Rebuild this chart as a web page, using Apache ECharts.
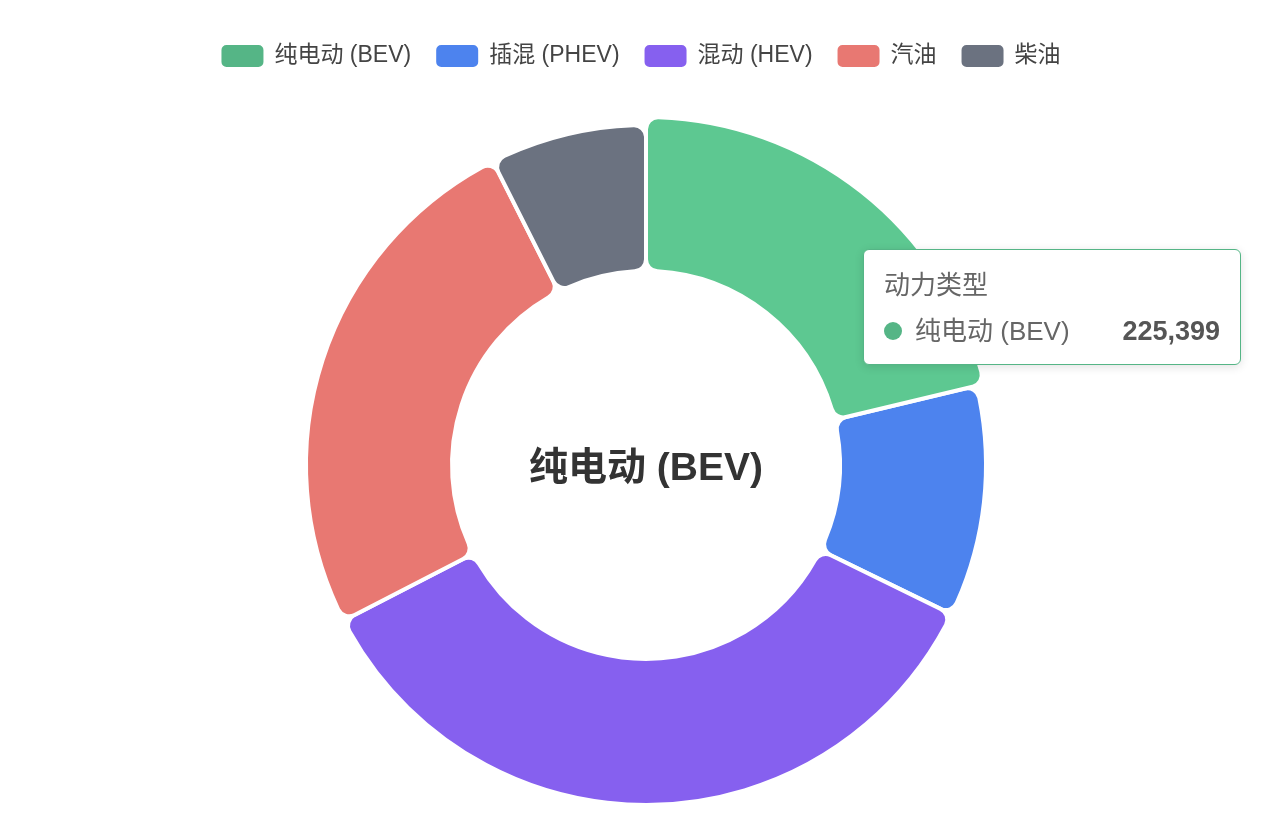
<!DOCTYPE html>
<html>
<head>
<meta charset="utf-8">
<script src="https://cdn.jsdelivr.net/npm/echarts@6/dist/echarts.min.js"></script>
<style>
  html, body { margin: 0; padding: 0; background: #fff; }
  #chart { width: 1280px; height: 821px; }
</style>
</head>
<body>
<div id="chart"></div>
<script>
(function () {
    'use strict';

    var categories = ['纯电动 (BEV)', '插混 (PHEV)', '混动 (HEV)', '汽油', '柴油'];
    var values = [225399, 116400, 373400, 266500, 78800];
    var colors = ['#55b586', '#4d83ee', '#8660ef', '#e87872', '#6b7280'];
    var seriesName = '动力类型';

    var FONT = '"Liberation Sans", "Noto Sans CJK SC", sans-serif';

    var chart = echarts.init(document.getElementById('chart'));

    var data = categories.map(function (name, i) {
        var item = { name: name, value: values[i], itemStyle: { color: colors[i] } };
        if (i === 0) {
            item.emphasis = { itemStyle: { color: '#5dc891' } };
        }
        return item;
    });

    chart.setOption({
        animation: false,
        textStyle: { fontFamily: FONT },
        color: colors,
        legend: {
            top: 38,
            left: 'center',
            itemWidth: 44,
            itemHeight: 24,
            itemGap: 23,
            icon: 'roundRect',
            textStyle: { fontSize: 23, color: '#444', fontFamily: FONT, padding: [0, 0, 0, 5] }
        },
        tooltip: {
            trigger: 'item',
            triggerOn: 'none',
            alwaysShowContent: true,
            position: [863, 249],
            padding: [17, 20, 15, 20],
            borderColor: colors[0],
            borderWidth: 1.5,
            backgroundColor: '#fff',
            extraCssText: 'border-radius:6px;box-shadow:0 2px 10px rgba(0,0,0,0.12);',
            formatter: function (p) {
                return '<div style="font-family:' + FONT.replace(/"/g, "'") + ';color:#666;">' +
                    '<div style="font-size:26px;line-height:36px;">' + p.seriesName + '</div>' +
                    '<div style="margin-top:10px;width:336px;display:flex;align-items:center;font-size:26px;line-height:36px;">' +
                    '<span style="display:inline-block;width:18px;height:18px;border-radius:9px;background:' + p.color + ';"></span>' +
                    '<span style="margin-left:13px;flex:1;">' + p.name + '</span>' +
                    '<span style="font-weight:bold;font-size:27px;color:#555;">' + p.value.toLocaleString('en-US') + '</span>' +
                    '</div></div>';
            }
        },
        series: [{
            name: seriesName,
            type: 'pie',
            center: [646, 465],
            radius: [194, 340],
            startAngle: 90,
            avoidLabelOverlap: false,
            itemStyle: {
                borderColor: '#fff',
                borderWidth: 4,
                borderRadius: 12
            },
            label: {
                show: false,
                position: 'center'
            },
            labelLine: { show: false },
            emphasis: {
                scale: true,
                scaleSize: 8,
                label: {
                    show: true,
                    formatter: '{t|{b}}',
                    rich: {
                        t: {
                            fontSize: 39,
                            fontWeight: 'bold',
                            color: '#333',
                            fontFamily: FONT,
                            padding: [8, 0, 0, 0]
                        }
                    }
                }
            },
            data: data
        }]
    });

    chart.dispatchAction({ type: 'highlight', seriesIndex: 0, dataIndex: 0 });
    chart.dispatchAction({ type: 'showTip', seriesIndex: 0, dataIndex: 0 });
})();
</script>
</body>
</html>
